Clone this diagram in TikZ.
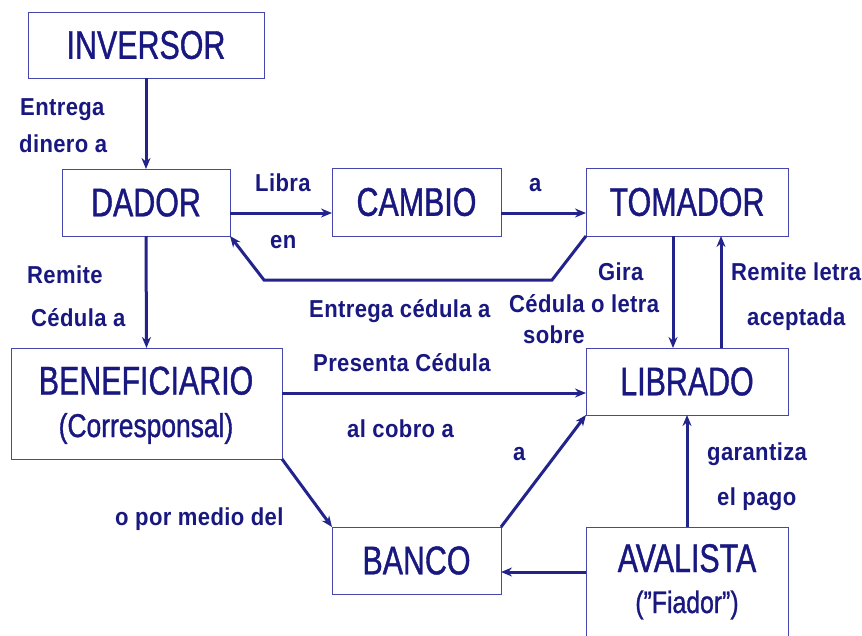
\documentclass[tikz,border=0pt]{standalone}
\usepackage{fontspec}
\setmainfont{Liberation Sans}
\newfontfamily\boxfont[FakeStretch=0.76,FakeBold=1.0]{Liberation Sans}
\newfontfamily\subfont[FakeStretch=0.80,FakeBold=1.0]{Liberation Sans}
\newfontfamily\labfont[FakeStretch=0.90,LetterSpace=1.5]{Liberation Sans Bold}
\usetikzlibrary{arrows.meta,calc}
\definecolor{txt}{RGB}{24,24,128}
\definecolor{bord}{RGB}{70,70,175}
\definecolor{arrc}{RGB}{35,35,140}
\tikzset{
  box/.style={draw=bord, line width=1pt, inner sep=0pt, outer sep=0pt, text=txt,
    font=\boxfont\fontsize{40}{44}\selectfont},
  title/.style={text=txt, inner sep=0pt, anchor=base, font=\boxfont\fontsize{40}{44}\selectfont},
  sub/.style={text=txt, inner sep=0pt, anchor=base, font=\subfont\fontsize{33}{38}\selectfont},
  subsm/.style={text=txt, inner sep=0pt, anchor=base, font=\subfont\fontsize{31}{36}\selectfont},
  lab/.style={text=txt, inner sep=0pt, anchor=base west, font=\labfont\fontsize{24.5}{28}\selectfont},
  conn/.style={draw=arrc, line width=3pt, -{Stealth[length=11pt,width=9pt]}},
}
\begin{document}
\begin{tikzpicture}[x=1pt,y=-1pt]
\clip (0,0) rectangle (862,635);
\fill[white] (0,0) rectangle (862,635);

% boxes
\node[box, minimum width=236, minimum height=66] (inv) at (146,45) {INVERSOR};
\node[box, minimum width=168, minimum height=67] (dad) at (146,202.5) {DADOR};
\node[box, minimum width=169, minimum height=68] (cam) at (416.5,202) {CAMBIO};
\node[box, minimum width=202, minimum height=68] (tom) at (687,202) {TOMADOR};
\node[box, minimum width=202, minimum height=67] (lib) at (687,381.5) {LIBRADO};
\node[box, minimum width=271, minimum height=111] (ben) at (146.5,403.5) {};
\node[title] (bent1) at (146,394.5) {BENEFICIARIO};
\node[sub] (bent2) at (146,437) {(Corresponsal)};
\node[box, minimum width=169, minimum height=67] (ban) at (416.5,560.5) {BANCO};
\node[box, minimum width=202, minimum height=120] (ava) at (687,587) {};
\node[title] (avat1) at (687,572) {AVALISTA};
\node[subsm] (avat2) at (687,613) {(”Fiador”)};

% bend points
\coordinate (r1) at (552,280);
\coordinate (r2) at (264,280);

% connectors
\draw[conn] (inv.south) -- (dad.north);
\draw[conn] ([yshift=-10.5pt]dad.east) -- ([yshift=-10.5pt]dad.east -| cam.west);
\draw[conn] ([yshift=-11pt]cam.east) -- ([yshift=-11pt]cam.east -| tom.west);
\draw[conn] (tom.south west) -- (r1) -- (r2) -- (dad.south east);
\draw[conn] (dad.south) -- (ben.north);
\draw[conn] ([xshift=-14pt]tom.south) -- ([xshift=-14pt]lib.north);
\draw[conn] ([xshift=34pt]lib.north) -- ([xshift=34pt]tom.south);
\draw[conn] ([yshift=10.5pt]ben.east) -- ([yshift=10.5pt]ben.east -| lib.west);
\draw[conn] (ben.south east) -- (ban.north west);
\draw[conn] (ban.north east) -- (lib.south west);
\draw[conn] (ava.west |- 0,572) -- (ban.east |- 0,572);
\draw[conn] (ava.north) -- (lib.south);

% labels
\node[lab] (l1) at (20,115) {Entrega};
\node[lab] (l2) at (19,152) {dinero a};
\node[lab] (l3) at (255,191) {Libra};
\node[lab] (l4) at (270,248) {en};
\node[lab] (l5) at (529,191) {a};
\node[lab] (l6) at (27,283) {Remite};
\node[lab] (l7) at (31,326) {Cédula a};
\node[lab] (l8) at (598,280) {Gira};
\node[lab] (l9) at (509,312) {Cédula o letra};
\node[lab] (l10) at (523,343) {sobre};
\node[lab] (l11) at (731,280) {Remite letra};
\node[lab] (l12) at (747,325) {aceptada};
\node[lab] (l13) at (309,317) {Entrega cédula a};
\node[lab] (l14) at (313,371) {Presenta Cédula};
\node[lab] (l15) at (347,437) {al cobro a};
\node[lab] (l16) at (513,460) {a};
\node[lab] (l17) at (115,525) {o por medio del};
\node[lab] (l18) at (707,460) {garantiza};
\node[lab] (l19) at (717,505) {el pago};
\end{tikzpicture}
\end{document}
